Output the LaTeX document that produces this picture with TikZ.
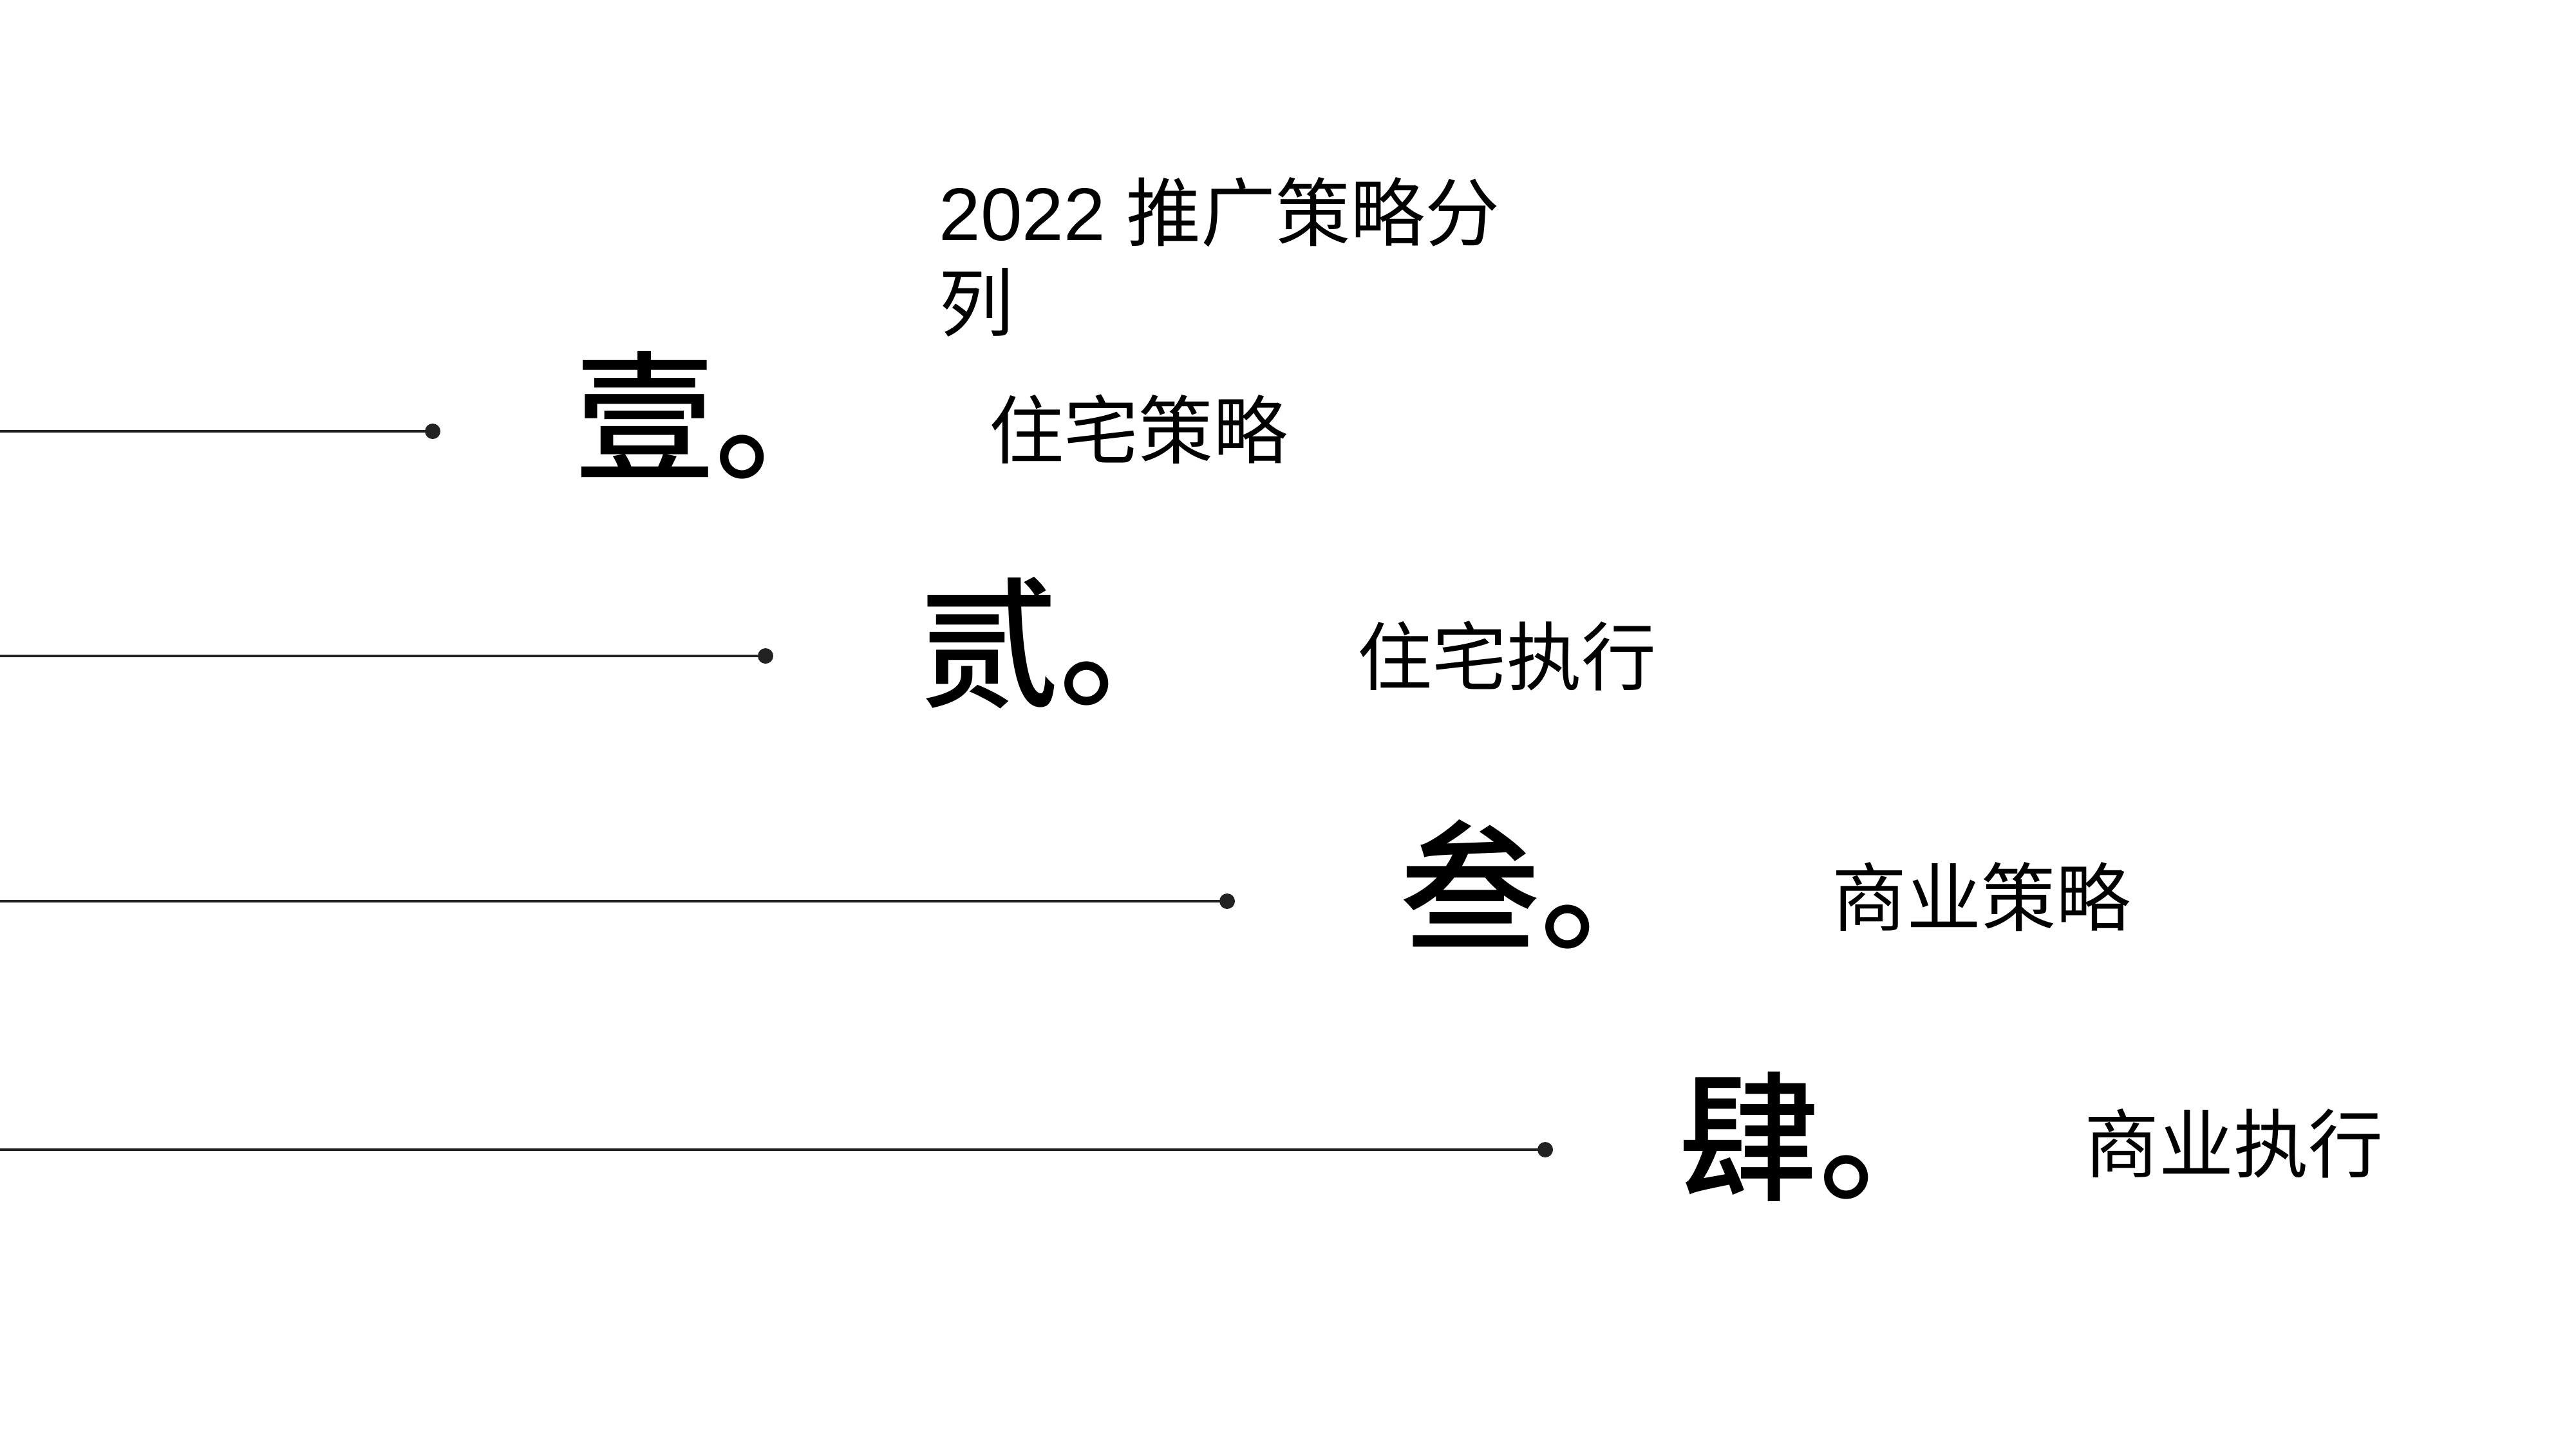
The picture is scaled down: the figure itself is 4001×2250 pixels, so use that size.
\documentclass[tikz,border=0pt]{standalone}
\usepackage{fontspec}
\setmainfont{Liberation Sans}
\newfontfamily\cjk{Noto Sans CJK SC}
\newfontfamily\cjkmed{Noto Sans CJK SC Medium}
\usepackage{xcolor}
\definecolor{rulegray}{HTML}{222222}

\begin{document}
\begin{tikzpicture}[x=0.01cm, y=-0.01cm,
  rule/.style={draw=rulegray, line width=0.95pt},
  enddot/.style={circle, fill=rulegray, inner sep=0pt, minimum size=0.24cm},
  numeral/.style={anchor=west, inner sep=0pt, font=\cjkmed\fontsize{62pt}{70pt}\selectfont},
  topic/.style={anchor=west, inner sep=0pt, font=\cjk\fontsize{33pt}{40pt}\selectfont}]
  \useasboundingbox (0,0) rectangle (4001,2250);
  \node[anchor=north west, inner sep=0pt, align=left, font=\fontsize{33pt}{39.8pt}\selectfont] (title) at (1458,275) {2022 {\cjk 推广策略分}\\{\cjk 列}};

  \coordinate (s1) at (0,670);
  \node[enddot] (d1) at (672,670) {};
  \draw[rule] (s1) -- (d1.center);
  \node[numeral] (n1) at (892,645) {壹。};
  \node[topic] (t1) at (1536,667) {住宅策略};

  \coordinate (s2) at (0,1019);
  \node[enddot] (d2) at (1189,1019) {};
  \draw[rule] (s2) -- (d2.center);
  \node[numeral] (n2) at (1427,999) {贰。};
  \node[topic] (t2) at (2108,1019) {住宅执行};

  \coordinate (s3) at (0,1400);
  \node[enddot] (d3) at (1906,1400) {};
  \draw[rule] (s3) -- (d3.center);
  \node[numeral] (n3) at (2174,1374) {叁。};
  \node[topic] (t3) at (2845,1393) {商业策略};

  \coordinate (s4) at (0,1786);
  \node[enddot] (d4) at (2400,1786) {};
  \draw[rule] (s4) -- (d4.center);
  \node[numeral] (n4) at (2607,1766) {肆。};
  \node[topic] (t4) at (3237,1776) {商业执行};
\end{tikzpicture}
\end{document}
